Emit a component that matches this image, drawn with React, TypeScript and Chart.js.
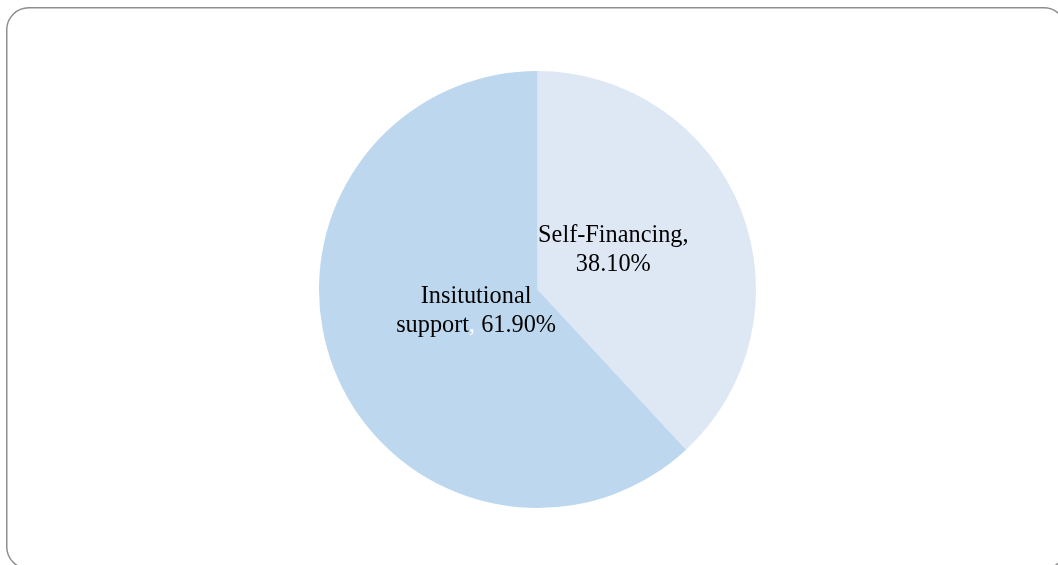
import React, { useEffect, useRef } from "react";
import { Chart, registerables } from "chart.js";

Chart.register(...registerables);

const categories = ["Self-Financing", "Insitutional support"];
const shares = [38.1, 61.9];
const sliceColors = ["#DEE8F5", "#BDD7EE"];

// Label placement relative to the pie centre, as fractions of the radius.
const labelOffsets = [
  { dx: 0.347, dy: -0.181 },
  { dx: -0.281, dy: 0.098 },
];
// How each label is split onto lines.
const labelLines = [
  (name: string, v: string) => [[{ t: name + ",", c: "#000" }], [{ t: v, c: "#000" }]],
  (name: string, v: string) => {
    const parts = name.split(" ");
    return [
      [{ t: parts[0], c: "#000" }],
      [
        { t: parts[1], c: "#000" },
        { t: ",", c: "#FFFFFF" },
        { t: " " + v, c: "#000" },
      ],
    ];
  },
];

// Rounded frame around the whole chart, partly running off the canvas.
const frame = {
  id: "frame",
  beforeDraw(chart: any) {
    const ctx = chart.ctx;
    ctx.save();
    ctx.fillStyle = "#FFFFFF";
    ctx.fillRect(0, 0, chart.width, chart.height);
    ctx.beginPath();
    ctx.roundRect(6.75, 7.75, 1059, 561, 22);
    ctx.lineWidth = 1.5;
    ctx.strokeStyle = "#8E8E8E";
    ctx.stroke();
    ctx.restore();
  },
};

const sliceLabels = {
  id: "sliceLabels",
  afterDatasetsDraw(chart: any) {
    const ctx = chart.ctx;
    const meta = chart.getDatasetMeta(0);
    ctx.save();
    ctx.font = '24.3px "Liberation Serif", "Times New Roman", serif';
    ctx.textBaseline = "middle";
    ctx.textAlign = "left";
    const lineH = 29.5;
    meta.data.forEach((arc: any, i: number) => {
      const { x, y, outerRadius } = arc.getProps(["x", "y", "outerRadius"], true);
      const cx = x + labelOffsets[i].dx * outerRadius;
      const cy = y + labelOffsets[i].dy * outerRadius;
      const value = shares[i].toFixed(2) + "%";
      const lines = labelLines[i](categories[i], value);
      lines.forEach((runs: any[], li: number) => {
        const total = runs.reduce((s, r) => s + ctx.measureText(r.t).width, 0);
        let px = cx - total / 2;
        const py = cy + (li - (lines.length - 1) / 2) * lineH;
        runs.forEach((r) => {
          ctx.fillStyle = r.c;
          ctx.fillText(r.t, px, py);
          px += ctx.measureText(r.t).width;
        });
      });
    });
    ctx.restore();
  },
};

export default function App() {
  const ref = useRef<HTMLCanvasElement | null>(null);

  useEffect(() => {
    if (!ref.current) return;
    const chart = new Chart(ref.current, {
      type: "pie",
      data: {
        labels: categories,
        datasets: [
          {
            data: shares,
            backgroundColor: sliceColors,
            borderWidth: 0,
          },
        ],
      },
      options: {
        animation: false,
        responsive: false,
        maintainAspectRatio: false,
        layout: { padding: { top: 71, bottom: 57, left: 17, right: 0 } },
        plugins: {
          legend: { display: false },
          tooltip: { enabled: false },
        },
      },
      plugins: [frame, sliceLabels],
    });
    return () => chart.destroy();
  }, []);

  return (
    <div
      style={{
        position: "fixed",
        left: 0,
        top: 0,
        width: 1058,
        height: 565,
        overflow: "hidden",
        background: "#fff",
      }}
    >
      <canvas
        ref={ref}
        width={1058}
        height={565}
        style={{ position: "absolute", left: 0, top: 0, width: 1058, height: 565 }}
      />
    </div>
  );
}
